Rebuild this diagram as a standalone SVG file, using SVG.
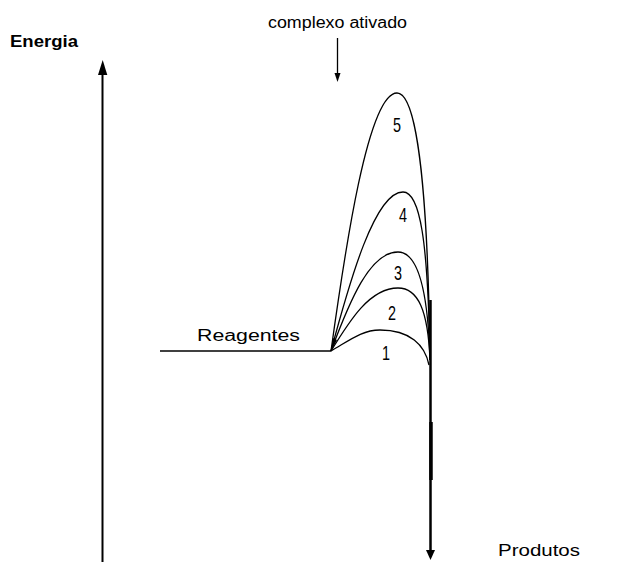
<svg xmlns="http://www.w3.org/2000/svg" width="619" height="562" viewBox="0 0 619 562">
<style>
text{font-family:"Liberation Sans",Arial,sans-serif;fill:#000}
.lbl{font-size:16px}
.num{font-size:20px}
.curve{fill:none;stroke:#000;stroke-width:1.3}
.ln{stroke:#000;fill:none}
</style>
<rect width="619" height="562" fill="#fff"/>
<g id="axis">
<line class="ln" x1="102.5" y1="562" x2="102.5" y2="70" stroke-width="2"/>
<path d="M102.7,60 L98,75 L107.3,75 Z" fill="#000"/>
<text x="10" y="47" font-weight="bold" font-size="16" textLength="68" lengthAdjust="spacingAndGlyphs">Energia</text>
</g>
<g id="complexo">
<text class="lbl" x="268" y="28" textLength="139" lengthAdjust="spacingAndGlyphs">complexo ativado</text>
<line class="ln" x1="337.5" y1="38" x2="337.5" y2="76" stroke-width="1.3"/>
<path d="M337.5,82 L334.5,73 L340.5,73 Z" fill="#000"/>
</g>
<g id="reagentes">
<line class="ln" x1="160" y1="351" x2="331" y2="351" stroke-width="1.5"/>
<text class="lbl" x="197" y="341" font-size="17" textLength="103" lengthAdjust="spacingAndGlyphs">Reagentes</text>
</g>
<g id="connectors">
<path class="curve" d="M331,351 C345,250 368,93 397,93 C418,93 428,200 430,360"/>
<path class="curve" d="M331,351 C350,280 375,192 403,192 C420,192 428,240 430,360"/>
<path class="curve" d="M331,351 C350,300 370,252 398,252 C418,252 428,290 430,360"/>
<path class="curve" d="M331,351 C350,320 370,288 398,288 C418,288 428,310 430,360"/>
<path class="curve" d="M331,351 C350,340 362,330 380,330 C410,330 425,345 429,365"/>
<path d="M331,351 L333,338 L337,340 Z" fill="#000"/>
</g>
<g id="labels">
<text class="num" text-anchor="middle" transform="translate(397,132) scale(0.72,1)">5</text>
<text class="num" text-anchor="middle" transform="translate(403,222) scale(0.72,1)">4</text>
<text class="num" text-anchor="middle" transform="translate(398,280) scale(0.72,1)">3</text>
<text class="num" text-anchor="middle" transform="translate(392,320) scale(0.72,1)">2</text>
<text class="num" text-anchor="middle" transform="translate(386,360) scale(0.72,1)">1</text>
</g>
<g id="produtos">
<line class="ln" x1="430.5" y1="300" x2="430.5" y2="552" stroke-width="2.5"/>
<line class="ln" x1="431" y1="422" x2="431" y2="480" stroke-width="3.5"/>
<path d="M430.5,560 L426,550 L435,550 Z" fill="#000"/>
<text class="lbl" x="498" y="556" font-size="17" textLength="82" lengthAdjust="spacingAndGlyphs">Produtos</text>
</g>
</svg>
